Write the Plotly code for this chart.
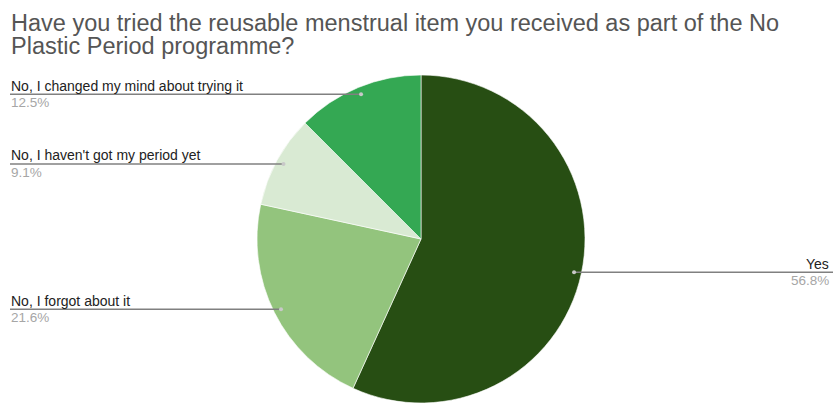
import math
import plotly.graph_objects as go

# Survey responses (percent of respondents)
labels = [
    "Yes",
    "No, I forgot about it",
    "No, I haven't got my period yet",
    "No, I changed my mind about trying it",
]
values = [56.8, 21.6, 9.1, 12.5]
colors = ["#274e13", "#93c47d", "#d9ead3", "#34a853"]

title_lines = [
    "Have you tried the reusable menstrual item you received as part of the No",
    "Plastic Period programme?",
]

W, H = 833, 403
FONT = "Liberation Sans, Arial, sans-serif"

# pie geometry in pixels
cx, cy, R = 421, 239, 164


def px(x):
    return x / W


def py(y):
    return 1 - y / H


fig = go.Figure(
    go.Pie(
        labels=labels,
        values=values,
        sort=False,
        direction="clockwise",
        rotation=0,
        marker=dict(colors=colors, line=dict(color="rgba(255,255,255,0.6)", width=1)),
        textinfo="none",
        hoverinfo="label+percent",
        showlegend=False,
        domain=dict(x=[px(cx - R), px(cx + R)], y=[py(cy + R), py(cy - R)]),
    )
)

shapes = []
annotations = []

# title, one annotation per line for tight line spacing
for i, line in enumerate(title_lines):
    annotations.append(dict(xref="paper", yref="paper", x=px(9), y=py(23 + 23 * i),
                            xanchor="left", yanchor="middle", showarrow=False,
                            text=line, font=dict(family=FONT, size=23.5, color="#555555")))

# leader lines with labels and percentages
total = sum(values)
cum = 0.0
for lab, val in zip(labels, values):
    theta = 2 * math.pi * (cum + val / 2) / total
    cum += val
    dx = cx + 0.955 * R * math.sin(theta)
    dy = cy - 0.955 * R * math.cos(theta)
    right = dx > cx
    x0, x1 = (dx, W) if right else (10, dx)
    shapes.append(dict(type="line", xref="paper", yref="paper",
                       x0=px(x0), x1=px(x1), y0=py(dy), y1=py(dy),
                       line=dict(color="#808080", width=1.5)))
    shapes.append(dict(type="circle", xref="paper", yref="paper",
                       x0=px(dx - 2), x1=px(dx + 2), y0=py(dy + 2), y1=py(dy - 2),
                       fillcolor="#c8c8c8", line=dict(width=0)))
    tx = W - 2 if right else 9
    anchor = "right" if right else "left"
    annotations.append(dict(xref="paper", yref="paper", x=px(tx), y=py(dy + 1.5),
                            xanchor=anchor, yanchor="bottom", showarrow=False,
                            text=lab, font=dict(family=FONT, size=14, color="#222222")))
    annotations.append(dict(xref="paper", yref="paper", x=px(tx), y=py(dy - 1),
                            xanchor=anchor, yanchor="top", showarrow=False,
                            text=f"{val}%", font=dict(family=FONT, size=13.5, color="#a6a6a6")))

fig.update_layout(
    width=W,
    height=H,
    margin=dict(l=0, r=0, t=0, b=0),
    paper_bgcolor="white",
    plot_bgcolor="white",
    shapes=shapes,
    annotations=annotations,
)

fig.write_html("out.html")
